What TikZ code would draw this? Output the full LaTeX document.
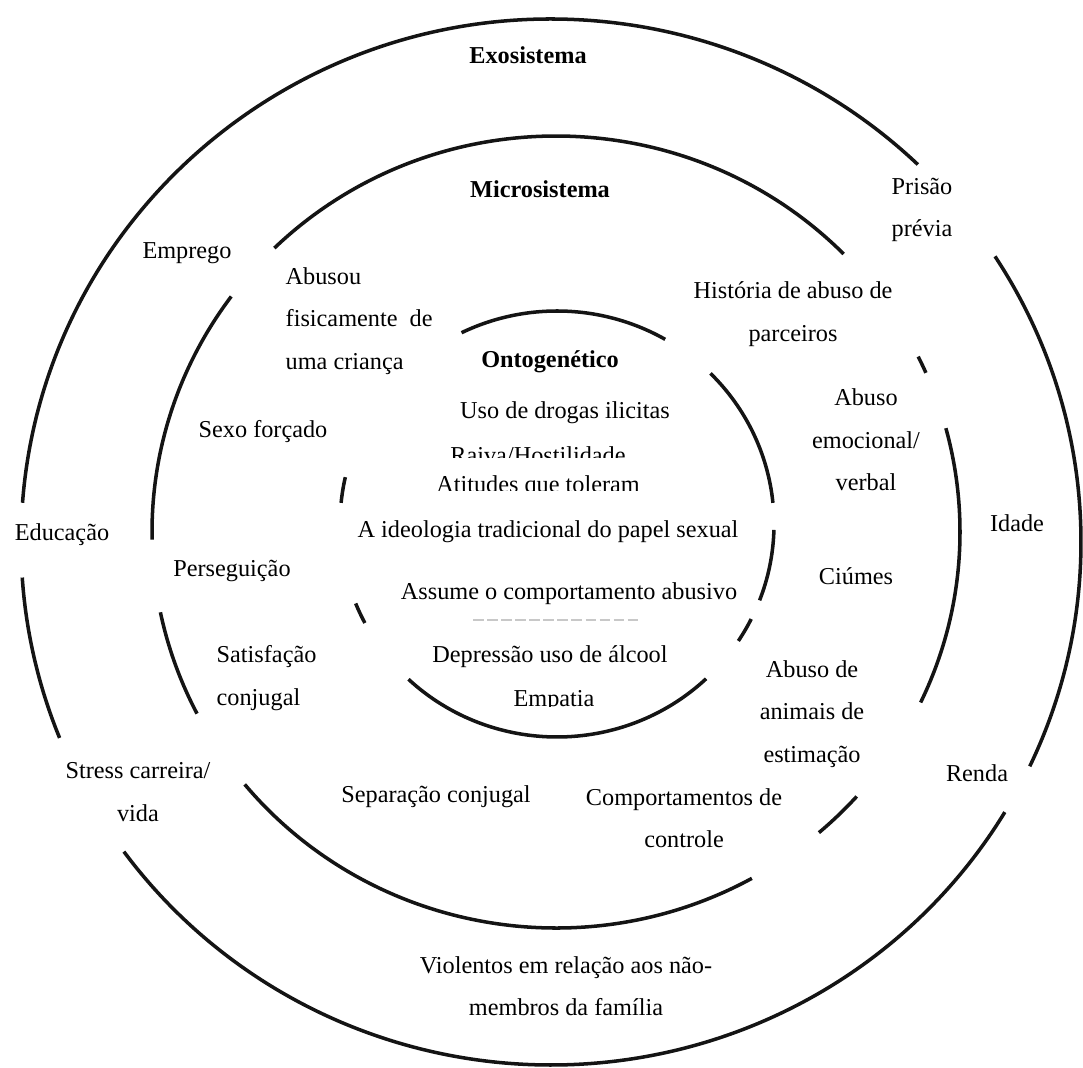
\documentclass[tikz,border=0pt]{standalone}
\usepackage{fontspec}
\setmainfont{Liberation Serif}

\definecolor{ringline}{RGB}{20,20,20}
\definecolor{fadedline}{RGB}{200,200,200}

\begin{document}
\begin{tikzpicture}[x=0.01cm, y=-0.01cm,
  ring/.style={ringline, line width=1pt},
  lbl/.style={inner sep=0pt, font=\fontsize{6.9}{12.1}\selectfont},
  head/.style={inner sep=0pt, font=\fontsize{6.9}{12.1}\selectfont\bfseries}]
  \useasboundingbox (0,0) rectangle (1083,1068);

  % Draw the three rings, broken where the labels sit
  \foreach \a/\b in {326.9/385.4, 31.1/143.7, 158.0/176.1, 184.3/313.8}
    \draw[ring] (551,542) ++(\a:530 and 523) arc[start angle=\a, end angle=\b, x radius=530, y radius=523];
  \foreach \a/\b in {225.8/315.4, 333.7/336.3, 344.8/385.5, 41.9/49.4, 61.0/140.4, 152.7/168.3, 178.9/216.5}
    \draw[ring] (556,532) ++(\a:404 and 396) arc[start angle=\a, end angle=\b, x radius=404, y radius=396];
  \foreach \a/\b in {243.9/299.9, 315/354.3, 361.6/381.0, 26.5/33.3, 46.6/133.2, 152.3/158.1, 185.7/192.7}
    \draw[ring] (557,524) ++(\a:217 and 213) arc[start angle=\a, end angle=\b, x radius=217, y radius=213];

  % Ring titles
  \node[head] (exo) at (528,55) {Exosistema};
  \node[head] (micro) at (540,189) {Microsistema};
  \node[head] (onto) at (550,362) {Ontogenético};

  % Exosystem factors
  \node[lbl] (emprego) at (187,253) {Emprego};
  \node[lbl, align=center] (prisao) at (922,210) {Prisão\\prévia};
  \node[lbl] (educacao) at (62,535) {Educação};
  \node[lbl] (idade) at (1017,523) {Idade};
  \node[lbl, align=center] (stress) at (138,792) {Stress carreira/\\vida};
  \node[lbl] (renda) at (977,773) {Renda};
  \node[lbl, align=center] (violentos) at (566,986) {Violentos em relação aos não-\\membros da família};

  % Microsystem factors
  \node[lbl, align=left, anchor=west] (abusou) at (285,321) {Abusou\\fisicamente\ \ de\\uma criança};
  \node[lbl, align=center] (historia) at (793,314) {História de abuso de\\parceiros};
  \node[lbl, align=center] (emocional) at (866,440) {Abuso\\emocional/\\verbal};
  \node[lbl] (sexo) at (263,432) {Sexo forçado};
  \node[lbl] (perseguicao) at (232,571) {Perseguição};
  \node[lbl] (ciumes) at (856,576) {Ciúmes};
  \node[lbl, align=left, anchor=west] (satisfacao) at (216,678) {Satisfação\\conjugal};
  \node[lbl, align=center] (animais) at (812,714) {Abuso de\\animais de\\estimação};
  \node[lbl] (separacao) at (436,797) {Separação conjugal};
  \node[lbl, align=center] (controle) at (684,818) {Comportamentos de\\controle};

  % Ontogenetic factors
  \node[lbl] (drogas) at (565,413) {Uso de drogas ilicitas};
  \begin{scope}
    \clip (400,430) rectangle (700,458);
    \node[lbl] (raiva) at (538,455) {Raiva/Hostilidade};
  \end{scope}
  \begin{scope}
    \clip (400,465) rectangle (700,491);
    \node[lbl] (atitudes) at (538,487) {Atitudes que toleram};
  \end{scope}
  \node[lbl] (ideologia) at (548,532) {A ideologia tradicional do papel sexual};
  \node[lbl] (assume) at (569,594) {Assume o comportamento abusivo};
  \draw[fadedline, dash pattern=on 3pt off 1pt, line width=0.3pt] (473,620) -- (640,620);
  \node[lbl] (depressao) at (550,657) {Depressão uso de álcool};
  \begin{scope}
    \clip (480,680) rectangle (640,706);
    \node[lbl] (empatia) at (554,701) {Empatia};
  \end{scope}

\end{tikzpicture}
\end{document}
